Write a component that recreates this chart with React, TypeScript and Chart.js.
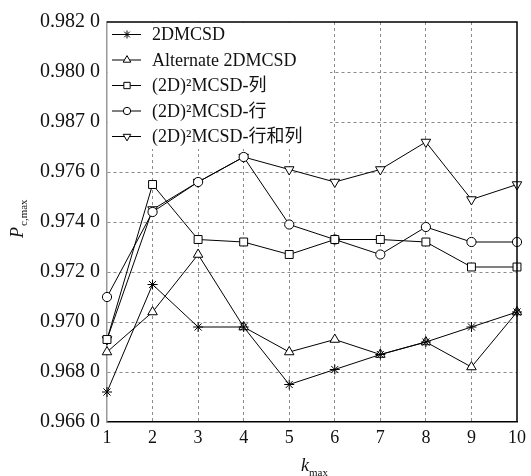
import React, { useEffect, useRef } from 'react';
import { Chart, registerables } from 'chart.js';

Chart.register(...registerables);

const kMax = ['1', '2', '3', '4', '5', '6', '7', '8', '9', '10'];
const yTickValues = [0.966, 0.968, 0.97, 0.972, 0.974, 0.976, 0.978, 0.98, 0.982];
const yTickLabels = ['0.966 0', '0.968 0', '0.970 0', '0.972 0', '0.974 0', '0.976 0', '0.987 0', '0.980 0', '0.982 0'];

const seriesNames = ['2DMCSD', 'Alternate 2DMCSD', '(2D)²MCSD-列', '(2D)²MCSD-行', '(2D)²MCSD-行和列'];
const s2DMCSD = [0.9672, 0.9715, 0.9698, 0.9698, 0.9675, 0.9681, 0.9687, 0.9692, 0.9698, 0.9704];
const sAlternate = [0.9688, 0.9704, 0.9727, 0.9698, 0.9688, 0.9693, 0.9687, 0.9692, 0.9682, 0.9704];
const sColumn = [0.9693, 0.9755, 0.9733, 0.9732, 0.9727, 0.9733, 0.9733, 0.9732, 0.9722, 0.9722];
const sRow = [0.971, 0.9744, 0.9756, 0.9766, 0.9739, 0.9733, 0.9727, 0.9738, 0.9732, 0.9732];
const sRowColumn = [0.9693, 0.9745, 0.9756, 0.9766, 0.9761, 0.9756, 0.9761, 0.9772, 0.9749, 0.9755];

const markerStyles = ['star', 'triangle', 'rect', 'circle', 'invTriangle'];
const markerRadii = [5, 5.5, 5.6, 4.6, 5.5];

const SERIF = '"Liberation Serif", "Times New Roman", "DejaVu Serif", "Noto Sans CJK SC", serif';

function drawMarker(ctx: CanvasRenderingContext2D, style: string, x: number, y: number, r: number) {
  ctx.save();
  ctx.strokeStyle = '#000';
  ctx.fillStyle = '#fff';
  ctx.lineWidth = 1;
  ctx.beginPath();
  if (style === 'star') {
    for (let a = 0; a < 4; a++) {
      const ang = (a * Math.PI) / 4;
      ctx.moveTo(x + Math.cos(ang) * r, y + Math.sin(ang) * r);
      ctx.lineTo(x - Math.cos(ang) * r, y - Math.sin(ang) * r);
    }
    ctx.stroke();
  } else if (style === 'triangle' || style === 'invTriangle') {
    const s = style === 'triangle' ? 1 : -1;
    ctx.moveTo(x, y - s * r);
    ctx.lineTo(x + r * Math.cos(Math.PI / 6), y + s * r * 0.5);
    ctx.lineTo(x - r * Math.cos(Math.PI / 6), y + s * r * 0.5);
    ctx.closePath();
    ctx.fill();
    ctx.stroke();
  } else if (style === 'rect') {
    const h = r * Math.SQRT1_2;
    ctx.rect(x - h, y - h, 2 * h, 2 * h);
    ctx.fill();
    ctx.stroke();
  } else {
    ctx.arc(x, y, r, 0, Math.PI * 2);
    ctx.fill();
    ctx.stroke();
  }
  ctx.restore();
}

const decorPlugin = {
  id: 'decor',
  beforeDatasetsDraw(chart: any) {
    const ctx = chart.ctx as CanvasRenderingContext2D;
    const area = chart.chartArea;
    ctx.save();
    ctx.fillStyle = '#fff';
    ctx.fillRect(area.left + 1, area.top + 1, 222, 126);
    ctx.font = '18px ' + SERIF;
    ctx.fillStyle = '#111';
    ctx.textBaseline = 'middle';
    ctx.textAlign = 'left';
    for (let i = 0; i < seriesNames.length; i++) {
      const cy = area.top + 12.5 + i * 25.5;
      ctx.strokeStyle = '#000';
      ctx.lineWidth = 1;
      ctx.beginPath();
      ctx.moveTo(area.left + 5, cy);
      ctx.lineTo(area.left + 34, cy);
      ctx.stroke();
      drawMarker(ctx, markerStyles[i], area.left + 20, cy, markerRadii[i] * 0.8);
      ctx.fillStyle = '#111';
      ctx.fillText(seriesNames[i], area.left + 45, cy + 1);
    }
    ctx.restore();
  },
  afterDraw(chart: any) {
    const ctx = chart.ctx as CanvasRenderingContext2D;
    const area = chart.chartArea;
    ctx.save();
    ctx.strokeStyle = '#000';
    ctx.lineWidth = 1.5;
    ctx.beginPath();
    ctx.moveTo(area.left, area.top);
    ctx.lineTo(area.right, area.top);
    ctx.lineTo(area.right, area.bottom);
    ctx.stroke();
    ctx.fillStyle = '#111';
    ctx.save();
    ctx.translate(23, 238);
    ctx.rotate(-Math.PI / 2);
    ctx.textBaseline = 'alphabetic';
    ctx.textAlign = 'left';
    ctx.font = 'italic 18px ' + SERIF;
    ctx.fillText('P', 0, 0);
    const pw = ctx.measureText('P').width;
    ctx.font = '11px ' + SERIF;
    ctx.fillText('c,max', pw + 1, 4);
    ctx.restore();
    ctx.textBaseline = 'alphabetic';
    ctx.textAlign = 'left';
    ctx.font = 'italic 18px ' + SERIF;
    ctx.fillText('k', 301, 471);
    const kw = ctx.measureText('k').width;
    ctx.font = '11px ' + SERIF;
    ctx.fillText('max', 301 + kw, 476);
    ctx.restore();
  },
};

function makeDataset(label: string, data: number[], i: number) {
  const style = markerStyles[i];
  return {
    label,
    data,
    borderColor: '#000',
    borderWidth: 1,
    backgroundColor: '#fff',
    pointBackgroundColor: '#fff',
    pointBorderColor: '#000',
    pointBorderWidth: 1,
    pointStyle: style === 'invTriangle' ? 'triangle' : style,
    pointRotation: style === 'invTriangle' ? 180 : 0,
    pointRadius: markerRadii[i],
    tension: 0,
    fill: false,
  };
}

export default function App() {
  const ref = useRef<HTMLCanvasElement | null>(null);
  useEffect(() => {
    document.body.style.margin = '0';
    if (!ref.current) return;
    const gridColor = (c: any) => {
      const n = c.chart.scales[c.scale.id]?.ticks?.length ?? 0;
      if (c.index === 0 || c.index === n - 1) return 'rgba(0,0,0,0)';
      return '#8a8a8a';
    };
    const chart = new Chart(ref.current, {
      type: 'line',
      data: {
        labels: kMax,
        datasets: [
          makeDataset(seriesNames[0], s2DMCSD, 0),
          makeDataset(seriesNames[1], sAlternate, 1),
          makeDataset(seriesNames[2], sColumn, 2),
          makeDataset(seriesNames[3], sRow, 3),
          makeDataset(seriesNames[4], sRowColumn, 4),
        ],
      },
      options: {
        animation: false,
        responsive: false,
        maintainAspectRatio: false,
        layout: { padding: { top: 22, right: 9, left: 0, bottom: 0 } },
        plugins: { legend: { display: false }, tooltip: { enabled: false } },
        scales: {
          x: {
            type: 'category',
            offset: false,
            grid: { color: gridColor, drawTicks: false, lineWidth: 1 },
            border: { display: true, color: '#000', width: 1.5, dash: [3, 3] },
            ticks: {
              font: { family: SERIF, size: 18 },
              color: '#111',
              padding: 5,
              maxRotation: 0,
              autoSkip: false,
            },
            afterFit: (s: any) => {
              s.height = 54;
            },
          },
          y: {
            type: 'linear',
            min: 0.966,
            max: 0.982,
            afterBuildTicks: (s: any) => {
              s.ticks = yTickValues.map((v) => ({ value: v }));
            },
            grid: { color: gridColor, drawTicks: false, lineWidth: 1 },
            border: { display: true, color: '#999', width: 1.5, dash: [3, 3] },
            ticks: {
              font: { family: SERIF, size: 20 },
              color: '#111',
              padding: 7,
              callback: (_v: any, i: number) => yTickLabels[i],
            },
            afterFit: (s: any) => {
              s.width = 107;
            },
          },
        },
      },
      plugins: [decorPlugin],
    } as any);
    return () => chart.destroy();
  }, []);
  return (
    <div style={{ width: 531, height: 476, background: '#fff' }}>
      <canvas ref={ref} width={531} height={476} style={{ display: 'block', width: 531, height: 476 }} />
    </div>
  );
}
